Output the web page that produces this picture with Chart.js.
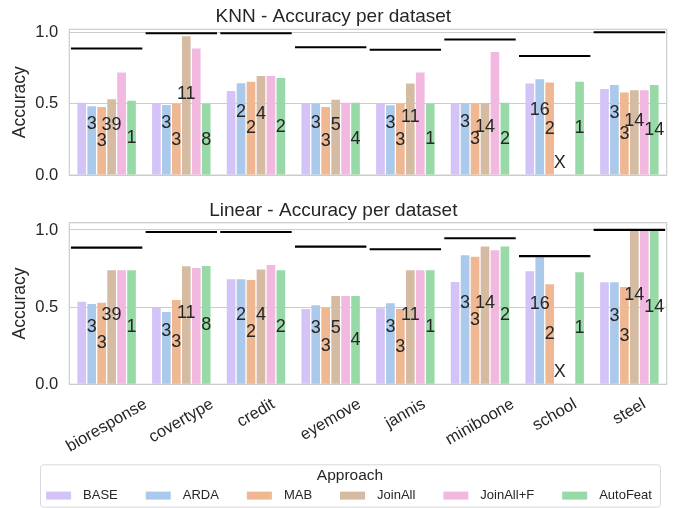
<!DOCTYPE html>
<html>
<head>
<meta charset="utf-8">
<script src="https://cdn.jsdelivr.net/npm/chart.js@4.4.1/dist/chart.umd.min.js"></script>
<style>
  html, body { margin: 0; padding: 0; background: #ffffff; }
  #wrap { position: relative; width: 678px; height: 508px; overflow: hidden; }
  canvas { position: absolute; left: 0; }
  #knn { top: 0; }
  #lin { top: 196px; }
</style>
</head>
<body>
<div id="wrap">
  <canvas id="knn" width="678" height="196"></canvas>
  <canvas id="lin" width="678" height="312"></canvas>
</div>
<script>
// ---- data ----
const datasetNames = ['bioresponse', 'covertype', 'credit', 'eyemove', 'jannis', 'miniboone', 'school', 'steel'];
const approaches = ['BASE', 'ARDA', 'MAB', 'JoinAll', 'JoinAll+F', 'AutoFeat'];
const yTicks = [0, 0.5, 1.0];

// KNN accuracy per approach
const knnBASE     = [0.507, 0.499, 0.588, 0.501, 0.501, 0.503, 0.640, 0.602];
const knnARDA     = [0.482, 0.490, 0.642, 0.497, 0.488, 0.503, 0.670, 0.630];
const knnMAB      = [0.476, 0.497, 0.653, 0.476, 0.497, 0.503, 0.647, 0.577];
const knnJoinAll  = [0.531, 0.972, 0.693, 0.528, 0.640, 0.503, null,  0.594];
const knnJoinAllF = [0.717, 0.886, 0.693, 0.507, 0.717, 0.862, null,  0.594];
const knnAutoFeat = [0.520, 0.497, 0.679, 0.507, 0.499, 0.507, 0.653, 0.630];
const knnBest     = [0.886, 0.993, 0.993, 0.894, 0.877, 0.949, 0.833, 1.000];

// Linear model accuracy per approach
const linBASE     = [0.535, 0.499, 0.680, 0.488, 0.492, 0.663, 0.732, 0.661];
const linARDA     = [0.520, 0.469, 0.680, 0.512, 0.525, 0.836, 0.823, 0.661];
const linMAB      = [0.529, 0.546, 0.676, 0.494, 0.488, 0.827, 0.648, 0.631];
const linJoinAll  = [0.739, 0.765, 0.743, 0.572, 0.739, 0.892, null,  0.997];
const linJoinAllF = [0.739, 0.754, 0.773, 0.572, 0.739, 0.868, null,  0.997];
const linAutoFeat = [0.739, 0.767, 0.739, 0.572, 0.739, 0.892, 0.726, 0.997];
const linBest     = [0.885, 0.987, 0.987, 0.892, 0.875, 0.946, 0.830, 1.000];

// Feature counts written on the bars
const labelsARDA     = ['3', '3', '2', '3', '3', '3', '16', '3'];
const labelsMAB      = ['3', '3', '2', '3', '3', '3', '2', '3'];
const labelsJoinAll  = ['39', '11', '4', '5', '11', '14', 'X', '14'];
const labelsAutoFeat = ['1', '8', '2', '4', '1', '2', '1', '14'];

// ---- styling ----
const FONT = '"Liberation Sans", Arial, Helvetica, sans-serif';
const TEXT = '#262626';
const EDGE = '#cccccc';
const colors = ['#d3c3f6', '#abc9ea', '#efb792', '#d6bba3', '#f1b9e0', '#98daa7'];
const BEST_HALF_THICK = 0.007;   // half thickness of the reference line, in accuracy units

Chart.defaults.font.family = FONT;
Chart.defaults.color = TEXT;

function buildDatasets(series, best) {
  const sets = series.map((data, k) => ({
    label: approaches[k],
    data: data,
    backgroundColor: colors[k],
    borderWidth: 0,
    categoryPercentage: 0.8,
    barPercentage: 0.87,
    order: 1
  }));
  // thin black bar spanning the whole category at the reference accuracy
  sets.push({
    label: 'best',
    data: best.map(v => [v - BEST_HALF_THICK, v + BEST_HALF_THICK]),
    backgroundColor: '#000000',
    borderWidth: 0,
    grouped: false,
    categoryPercentage: 1.0,
    barPercentage: 0.956,
    order: 0
  });
  return sets;
}

// Light grey frame around the plot area
const framePlugin = {
  id: 'frame',
  beforeDatasetsDraw(chart) {
    const { ctx, chartArea: a } = chart;
    ctx.save();
    ctx.strokeStyle = EDGE;
    ctx.lineWidth = 1.2;
    ctx.strokeRect(a.left, a.top, a.right - a.left, a.bottom - a.top);
    ctx.restore();
  }
};

// Numbers written in the middle of selected bars
const barLabelPlugin = {
  id: 'barLabels',
  afterDatasetsDraw(chart, args, opts) {
    const { ctx } = chart;
    const y = chart.scales.y;
    const x = chart.scales.x;
    const zero = y.getPixelForValue(0);
    ctx.save();
    ctx.font = '18px ' + FONT;
    ctx.fillStyle = TEXT;
    ctx.textAlign = 'center';
    ctx.textBaseline = 'middle';
    opts.items.forEach(({ ds, texts, lift }) => {
      const meta = chart.getDatasetMeta(ds);
      const values = chart.data.datasets[ds].data;
      texts.forEach((t, i) => {
        const el = meta.data[i];
        let px = el && isFinite(el.x) ? el.x : null;
        if (px === null) {
          const slot = (x.getPixelForValue(1) - x.getPixelForValue(0)) * 0.8 / 6;
          px = x.getPixelForValue(i) + (ds - 2.5) * slot;
        }
        const v = values[i] == null ? 0 : values[i];
        const py = (y.getPixelForValue(v) + zero) / 2 - lift;
        ctx.fillText(t, px, py);
      });
    });
    ctx.restore();
  }
};

const labelItems = [
  { ds: 1, texts: labelsARDA, lift: 17 },
  { ds: 2, texts: labelsMAB, lift: 0 },
  { ds: 3, texts: labelsJoinAll, lift: 12 },
  { ds: 5, texts: labelsAutoFeat, lift: 0 }
];

// Rotated dataset names under the lower panel
const xLabelPlugin = {
  id: 'xLabels',
  afterDraw(chart) {
    const { ctx } = chart;
    const xs = chart.scales.x;
    const top = chart.chartArea.bottom + 10.5;
    const size = 16.5;
    const ang = Math.PI / 6;
    ctx.save();
    ctx.font = size + 'px ' + FONT;
    ctx.fillStyle = TEXT;
    ctx.textAlign = 'center';
    ctx.textBaseline = 'middle';
    chart.data.labels.forEach((t, i) => {
      const px = xs.getPixelForValue(i);
      const L = ctx.measureText(t).width;
      const H = L * Math.sin(ang) + size * 1.15 * Math.cos(ang);
      ctx.save();
      ctx.translate(px, top + H / 2);
      ctx.rotate(-ang);
      ctx.fillText(t, 0, 0);
      ctx.restore();
    });
    ctx.restore();
  }
};

// Boxed legend with title, items in one row
const legendPlugin = {
  id: 'approachLegend',
  afterDraw(chart) {
    const { ctx } = chart;
    const box = { left: 40, right: 660, top: 268.3, bottom: 310.7 };
    ctx.save();
    ctx.beginPath();
    if (ctx.roundRect) {
      ctx.roundRect(box.left + 0.5, box.top + 0.5, box.right - box.left, box.bottom - box.top, 3);
    } else {
      ctx.rect(box.left + 0.5, box.top + 0.5, box.right - box.left, box.bottom - box.top);
    }
    ctx.fillStyle = '#ffffff';
    ctx.fill();
    ctx.strokeStyle = '#d9d9d9';
    ctx.lineWidth = 1;
    ctx.stroke();

    const cx = (box.left + box.right) / 2;
    ctx.fillStyle = TEXT;
    ctx.textAlign = 'center';
    ctx.textBaseline = 'middle';
    ctx.font = '15.5px ' + FONT;
    ctx.fillText('Approach', cx, 279.7);

    ctx.font = '13px ' + FONT;
    const patchW = 25, patchH = 8, gap = 12, spacing = 28;
    const widths = approaches.map(a => ctx.measureText(a).width);
    const total = widths.reduce((s, w) => s + patchW + gap + w, 0) + spacing * (approaches.length - 1);
    let x = cx - total / 2 - 1;
    const yc = 299.6;
    ctx.textAlign = 'left';
    approaches.forEach((a, k) => {
      ctx.fillStyle = colors[k];
      ctx.fillRect(x, yc - patchH / 2, patchW, patchH);
      ctx.fillStyle = TEXT;
      ctx.fillText(a, x + patchW + gap, yc);
      x += patchW + gap + widths[k] + spacing;
    });
    ctx.restore();
  }
};

function makeChart(canvasId, titleText, series, best, yMax, titlePad, layoutPad, extraPlugins) {
  return new Chart(document.getElementById(canvasId), {
    type: 'bar',
    data: { labels: datasetNames, datasets: buildDatasets(series, best) },
    options: {
      responsive: false,
      animation: false,
      devicePixelRatio: 1,
      layout: { padding: layoutPad },
      plugins: {
        legend: { display: false },
        tooltip: { enabled: false },
        title: {
          display: true,
          text: titleText,
          color: TEXT,
          font: { size: 19, weight: 'normal', family: FONT },
          padding: titlePad
        },
        barLabels: { items: labelItems }
      },
      scales: {
        x: { type: 'category', display: false, offset: true },
        y: {
          min: 0,
          max: yMax,
          afterBuildTicks: s => { s.ticks = yTicks.map(v => ({ value: v })); },
          afterFit: s => { s.width = 69.3; },
          border: { display: false },
          grid: { color: EDGE, lineWidth: 1, drawTicks: false },
          ticks: {
            padding: 11,
            color: TEXT,
            font: { size: 16.5, family: FONT },
            callback: v => Number(v).toFixed(1)
          },
          title: {
            display: true,
            text: 'Accuracy',
            color: TEXT,
            font: { size: 17.5, family: FONT },
            padding: { top: 10, bottom: 0 }
          }
        }
      }
    },
    plugins: [framePlugin, barLabelPlugin].concat(extraPlugins)
  });
}

makeChart('knn', 'KNN - Accuracy per dataset',
  [knnBASE, knnARDA, knnMAB, knnJoinAll, knnJoinAllF, knnAutoFeat], knnBest,
  1.02, { top: 4.9, bottom: 1.6 }, { left: 0, right: 11.3, top: 0, bottom: 6 }, []);

makeChart('lin', 'Linear - Accuracy per dataset',
  [linBASE, linARDA, linMAB, linJoinAll, linJoinAllF, linAutoFeat], linBest,
  1.047, { top: 3.1, bottom: 0.8 }, { left: 0, right: 11.3, top: 0, bottom: 123.7 }, [xLabelPlugin, legendPlugin]);
</script>
</body>
</html>
